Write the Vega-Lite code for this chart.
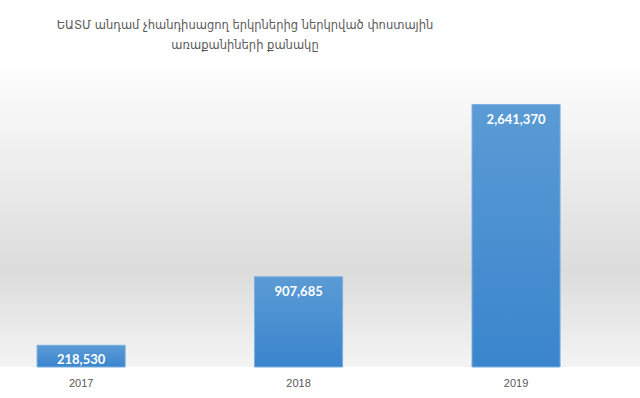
{
  "$schema": "https://vega.github.io/schema/vega-lite/v6.json",
  "width": 640,
  "height": 298,
  "autosize": {"type": "none"},
  "padding": {"left": 0, "top": 69, "right": 0, "bottom": 31},
  "background": "#ffffff",
  "title": {
    "text": ["ԵԱՏՄ անդամ չհանդիսացող երկրներից ներկրված փոստային", "առաքանիների քանակը"],
    "frame": "group",
    "anchor": "middle",
    "dx": -75,
    "offset": 18,
    "font": "DejaVu Sans",
    "fontSize": 11.5,
    "fontWeight": "normal",
    "color": "#595959",
    "lineHeight": 20
  },
  "config": {
    "view": {
      "stroke": null,
      "fill": {
        "gradient": "linear",
        "x1": 0, "y1": 0, "x2": 0, "y2": 1,
        "stops": [
          {"offset": 0, "color": "#fdfdfd"},
          {"offset": 0.68, "color": "#dcdcdc"},
          {"offset": 1, "color": "#f4f4f4"}
        ]
      }
    }
  },
  "data": {
    "values": [
      {"year": "2017", "count": 218530},
      {"year": "2018", "count": 907685},
      {"year": "2019", "count": 2641370}
    ]
  },
  "encoding": {
    "x": {
      "field": "year",
      "type": "ordinal",
      "scale": {"paddingInner": 0.595, "paddingOuter": 0.269, "align": 0.317},
      "axis": {
        "title": null,
        "domain": false,
        "ticks": false,
        "labelAngle": 0,
        "labelPadding": 10,
        "labelFont": "Liberation Sans",
        "labelFontSize": 11,
        "labelColor": "#595959"
      }
    },
    "y": {
      "field": "count",
      "type": "quantitative",
      "scale": {"domain": [0, 3000000]},
      "axis": null
    }
  },
  "layer": [
    {
      "mark": {
        "type": "bar",
        "stroke": "#7aaee0",
        "strokeWidth": 1,
        "color": {
          "gradient": "linear",
          "x1": 0, "y1": 0, "x2": 0, "y2": 1,
          "stops": [
            {"offset": 0, "color": "#5b9bd5"},
            {"offset": 1, "color": "#3a85cd"}
          ]
        }
      }
    },
    {
      "mark": {
        "type": "text",
        "baseline": "top",
        "dy": 9,
        "font": "Lato",
        "fontSize": 13,
        "fontWeight": "bold",
        "color": "#ffffff"
      },
      "encoding": {
        "text": {"field": "count", "type": "quantitative", "format": ",d"}
      }
    }
  ]
}
